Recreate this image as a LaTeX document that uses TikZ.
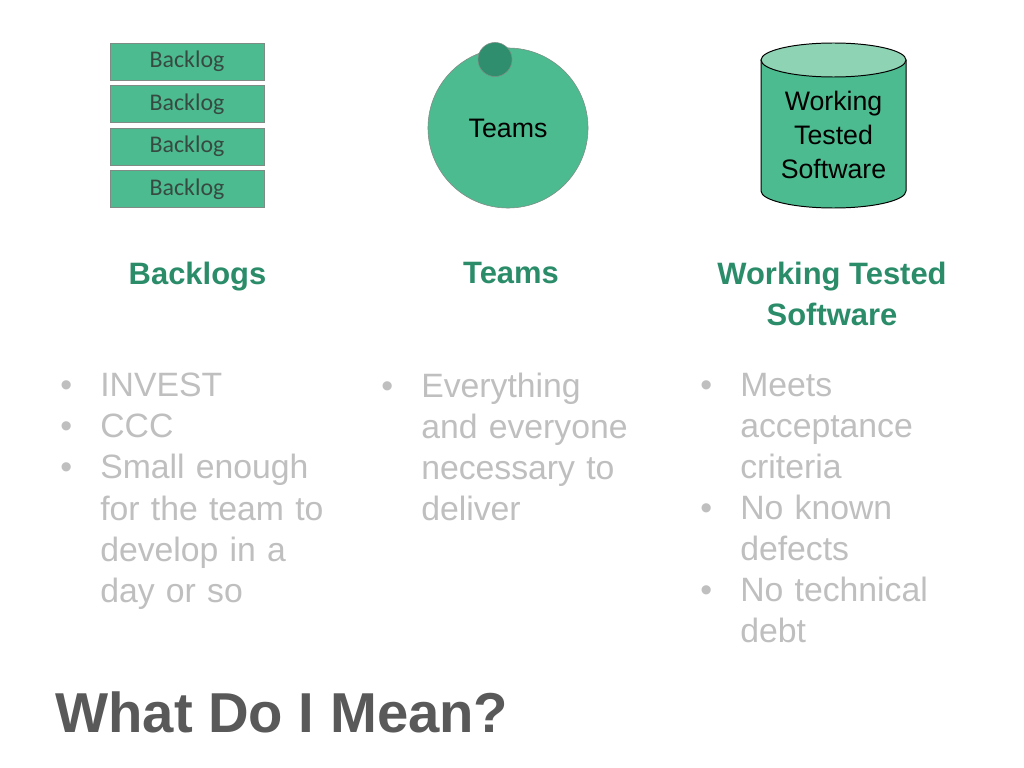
\documentclass[tikz,border=0pt]{standalone}
\usepackage{fontspec}
\setmainfont{Liberation Sans}
\newfontfamily\boxfont{Carlito}
\usetikzlibrary{positioning}
\definecolor{BoxGreen}{HTML}{4CBB8F}
\definecolor{DarkGreen}{HTML}{2E8E6E}
\definecolor{TopGreen}{HTML}{8DD3B4}
\definecolor{HeadGreen}{HTML}{2B8C6A}
\definecolor{LineGrey}{HTML}{7F8C86}
\definecolor{BoxText}{HTML}{374A42}
\definecolor{BulletGrey}{HTML}{BFBFBF}
\definecolor{TitleGrey}{HTML}{595959}
\newcommand{\bul}{\leavevmode\llap{\textbullet\hspace{20pt}}}
\tikzset{
  blbox/.style={draw=LineGrey, fill=BoxGreen, minimum width=3.85cm,
    minimum height=0.925cm, inner sep=0pt, text=BoxText,
    font=\boxfont\fontsize{17}{20}\selectfont},
  teamcircle/.style={circle, draw=LineGrey, fill=BoxGreen, minimum size=4cm,
    inner sep=0pt, font=\fontsize{19}{24.2}\selectfont},
  dotcircle/.style={circle, draw=LineGrey, fill=DarkGreen, minimum size=0.85cm,
    inner sep=0pt},
  cylside/.style={draw=black, fill=BoxGreen, line width=0.7pt},
  cyltop/.style={draw=black, fill=TopGreen, line width=0.7pt},
  cyltext/.style={align=center, inner sep=0pt, font=\fontsize{19}{24.2}\selectfont},
  head/.style={align=center, inner sep=0pt, text=HeadGreen,
    font=\bfseries\fontsize{22}{29.2}\selectfont},
  bullets/.style={align=left, text width=6.8cm, inner sep=0pt, text=BulletGrey,
    font=\fontsize{24}{29.2}\selectfont},
  titletext/.style={inner sep=0pt, text=TitleGrey,
    font=\bfseries\fontsize{40}{48}\selectfont},
}
\begin{document}
\begin{tikzpicture}[x=0.025cm, y=-0.025cm, node distance=0.125cm]
    \fill[white] (0,0) rectangle (1024,768);
    \useasboundingbox (0,0) rectangle (1024,768);
    % backlog stack
    \node[blbox] (b1) at (187,61.5) {Backlog};
    \node[blbox, below=of b1] (b2) {Backlog};
    \node[blbox, below=of b2] (b3) {Backlog};
    \node[blbox, below=of b3] (b4) {Backlog};
    % team
    \node[teamcircle] (teams) at (508,128) {Teams};
    \node[dotcircle] (lead) at (495,59.5) {};
    % software store
    \path[cylside] (761,60) -- (761,191)
      arc[start angle=180, end angle=0, x radius=72.5, y radius=17] -- (906,60) -- cycle;
    \path[cyltop] (833.5,60) ellipse[x radius=72.5, y radius=17];
    \node[cyltext] (wts) at (833.5,135) {Working\\Tested\\Software};
    % headings
    \node[head, anchor=north] (h1) at (197.5,262) {Backlogs};
    \node[head, anchor=north] (h2) at (511,262) {Teams};
    \node[head, anchor=north] (h3) at (832,262) {Working Tested\\Software};
    % bullet lists
    \node[bullets, anchor=north west] (l1) at (100,373)
      {\bul INVEST\\ \bul CCC\\ \bul Small enough\\ for the team to\\ develop in a\\ day or so};
    \node[bullets, anchor=north west] (l2) at (421,373)
      {\bul Everything\\ and everyone\\ necessary to\\ deliver};
    \node[bullets, anchor=north west] (l3) at (740,373)
      {\bul Meets\\ acceptance\\ criteria\\ \bul No known\\ defects\\ \bul No technical\\ debt};
    % title
    \node[titletext, anchor=base west] (title) at (55,732) {What Do I Mean?};
\end{tikzpicture}
\end{document}
